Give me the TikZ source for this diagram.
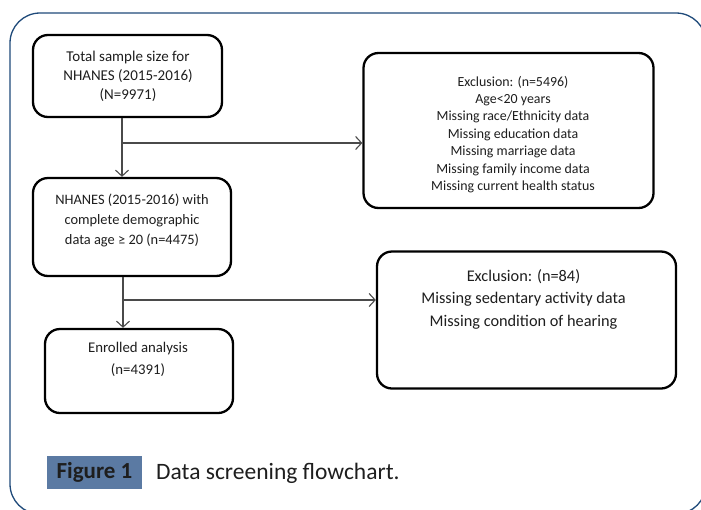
\documentclass[tikz,border=0pt]{standalone}
\usepackage{fontspec}
\setmainfont{Carlito}
\usetikzlibrary{arrows.meta}
\definecolor{framecol}{HTML}{1F4A7A}
\definecolor{capbg}{HTML}{5B7AA3}
\definecolor{txtcol}{HTML}{1E1E1E}
\definecolor{arrcol}{HTML}{4A4A4A}
\tikzset{
  box/.style={draw=black, line width=2.3pt, rounded corners=15pt, inner sep=0pt},
  txt/.style={align=center, text=txtcol, inner sep=0pt},
  arr/.style={draw=arrcol, line width=1.1pt, -{Straight Barb[length=6pt,width=13pt,line width=1.1pt]}},
}
\begin{document}
\begin{tikzpicture}[x=1pt,y=-1pt]
\clip (0,0) rectangle (701,509);
\fill[white] (0,0) rectangle (701,509);
\draw[framecol, line width=1.3pt, rounded corners=30pt] (10,13) rectangle (706,514);

% boxes
\node[box, minimum width=189pt, minimum height=82pt] (b1) at (127.5,76) {};
\node[box, minimum width=198pt, minimum height=98pt] (b2) at (132,227) {};
\node[box, minimum width=290pt, minimum height=155pt] (b3) at (508.5,130.5) {};
\node[box, minimum width=299pt, minimum height=137pt] (b4) at (526.5,320) {};
\node[box, minimum width=188pt, minimum height=84pt] (b5) at (139,371) {};

% texts
\node[txt, font=\fontsize{15}{19}\selectfont] (t1) at (128,76) {Total sample size for\\NHANES (2015-2016)\\(N=9971)};
\node[txt, font=\fontsize{14.4}{20}\selectfont] (t2) at (132,220) {NHANES (2015-2016) with\\complete demographic\\data age ≥ 20 (n=4475)};
\node[txt, font=\fontsize{13.9}{17.4}\selectfont] (t3) at (513,134.5) {Exclusion: (n=5496)\\Age<20 years\\Missing race/Ethnicity data\\Missing education data\\Missing marriage data\\Missing family income data\\Missing current health status};
\node[txt, font=\fontsize{16.3}{22.5}\selectfont] (t4) at (523.5,299) {Exclusion: (n=84)\\Missing sedentary activity data\\Missing condition of hearing};
\node[txt, font=\fontsize{14.8}{22}\selectfont] (t5) at (138,359) {Enrolled analysis\\(n=4391)};

% connectors
\coordinate (c1) at (122,143);
\coordinate (c2) at (123,300);
\draw[arr] (b1.south -| c1) -- (b2.north -| c1);
\draw[arr] (c1) -- (c1 -| b3.west);
\draw[arr] (b2.south -| c2) -- (b5.north -| c2);
\draw[arr] (c2) -- (c2 -| b4.west);

% caption
\node[fill=capbg, minimum width=95pt, minimum height=33pt, inner sep=0pt, text=txtcol, font=\fontsize{23}{26}\selectfont\bfseries] (fig) at (94.5,472) {Figure 1};
\node[anchor=west, inner sep=0pt, text=txtcol, font=\fontsize{23.5}{26}\selectfont] (cap) at (156,473) {Data screening flowchart.};
\end{tikzpicture}
\end{document}
